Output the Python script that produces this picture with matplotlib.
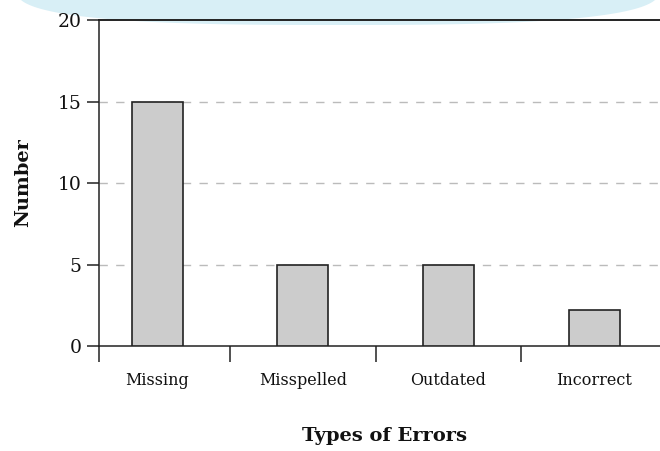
import numpy as np
import matplotlib
matplotlib.use("Agg")
import matplotlib.pyplot as plt
from matplotlib.path import Path
from matplotlib.patches import PathPatch

categories = ["Missing", "Misspelled", "Outdated", "Incorrect"]
values = [15, 5, 5, 2.2]
yticks = [0, 5, 10, 15, 20]
xlabel = "Types of Errors"
ylabel = "Number"

W, H = 660, 451
fig = plt.figure(figsize=(W / 100, H / 100), dpi=100)
fig.patch.set_facecolor("white")

# decorative light-blue band at the top (superellipse)
cx, cy, a, b, n = 338, -12, 322, 37, 2.8
t = np.linspace(0, 2 * np.pi, 400)
px = cx + a * np.sign(np.cos(t)) * np.abs(np.cos(t)) ** (2 / n)
py = cy + b * np.sign(np.sin(t)) * np.abs(np.sin(t)) ** (2 / n)
verts = np.column_stack([px / W, 1 - py / H])
fig.patches.append(PathPatch(Path(verts), transform=fig.transFigure,
                             facecolor="#d8eff6", edgecolor="none", zorder=-5))

left_px, right_px, top_px, bot_px = 99, 660, 20, 346
ax = fig.add_axes([left_px / W, 1 - bot_px / H,
                   (right_px - left_px) / W, (bot_px - top_px) / H])
ax.set_facecolor("none")
ax.set_zorder(2)

scale = 145.65
zero_px = 157.1
xl = (left_px - zero_px) / scale
xr = (right_px - zero_px) / scale
x = np.arange(len(categories))

ax.bar(x, values, width=0.35, color="#cccccc", edgecolor="#222222",
       linewidth=1.2, zorder=3)

ax.set_xlim(xl, xr)
ax.set_ylim(0, 20)

ax.set_xticks([xl] + list(x[:-1] + 0.5))
ax.set_xticklabels([])
ax.tick_params(axis="x", which="major", length=11.5, width=1.1, color="#222222",
               direction="out")
ax.set_xticks(x, minor=True)
ax.set_xticklabels(categories, minor=True, fontsize=11.5, family="DejaVu Serif",
                   color="#111111")
ax.tick_params(axis="x", which="minor", length=0, pad=19)

ax.set_yticks(yticks)
ax.set_yticklabels([str(v) for v in yticks], fontsize=13.5, family="DejaVu Serif",
                   color="#111111")
ax.tick_params(axis="y", length=8.5, width=1.1, color="#222222", pad=4)

for v in yticks[1:-1]:
    ax.axhline(v, color="#bbbbbb", linewidth=1.0, linestyle=(0, (6, 6)), zorder=1)

for s in ["left", "bottom", "top"]:
    ax.spines[s].set_color("#222222")
    ax.spines[s].set_linewidth(1.1)
ax.spines["top"].set_linewidth(1.4)
ax.spines["right"].set_visible(False)

fig.text(23 / W, 1 - 183 / H, ylabel, rotation=90, ha="center", va="center",
         fontsize=14, fontweight="bold", family="DejaVu Serif", color="#111111")
fig.text(385 / W, 1 - 436 / H, xlabel, ha="center", va="center",
         fontsize=14, fontweight="bold", family="DejaVu Serif", color="#111111")

fig.savefig("out.png", dpi=100, facecolor="white")
